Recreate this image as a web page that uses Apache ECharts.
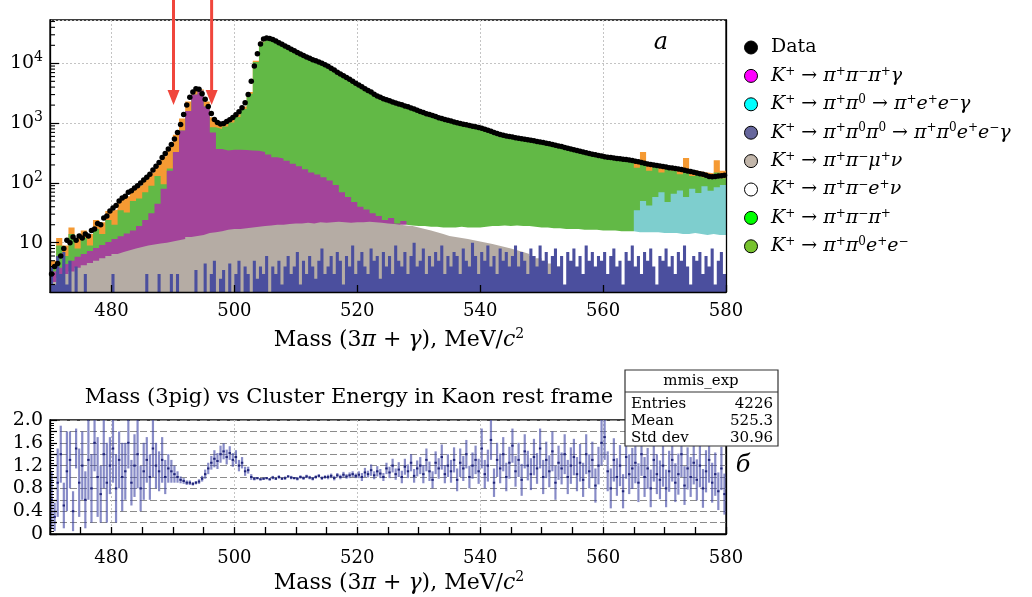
<!DOCTYPE html>
<html>
<head>
<meta charset="utf-8">
<script src="https://cdn.jsdelivr.net/npm/echarts@6/dist/echarts.min.js"></script>
<style>
  html, body { margin: 0; padding: 0; background: #fff; }
  #chart { width: 1032px; height: 597px; }
</style>
</head>
<body>
<div id="chart"></div>
<script>
// mass range and binning (MeV)
const massMin = 470
const massMax = 580
const mcBin = 1      // MC stack histograms
const fineBin = 0.5  // data, blue component, ratio

const xTicks = [480, 500, 520, 540, 560, 580]
const arrowMass = [490.1, 496.3]
const arrowTip = 2000

// cumulative stack tops, 1 MeV bins from 470
const totalTop = [
  5, 12, 9, 18, 12, 16, 14, 24, 22, 34,
  36, 52, 60, 78, 90, 115, 150, 200, 280, 400,
  640, 1200, 2300, 3500, 3700, 2300, 1250, 950, 1000, 1150,
  1400, 1900, 3300, 11000, 23000, 26000, 24000, 21300, 18800, 16700,
  14700, 13100, 11800, 10700, 9800, 8600, 7400, 6400, 5600, 4800,
  4200, 3600, 3150, 2780, 2500, 2300, 2130, 1980, 1830, 1680,
  1530, 1410, 1310, 1210, 1140, 1060, 1000, 950, 900, 860,
  810, 745, 685, 640, 605, 580, 555, 530, 510, 490,
  470, 445, 420, 400, 378, 355, 338, 318, 300, 285,
  273, 263, 256, 250, 245, 235, 330, 215, 205, 200,
  190, 185, 178, 260, 165, 155, 150, 145, 240, 160
]
// K+ -> pi+ pi0 e+ e-
const eeTop = [
  4, 9, 6, 14, 8, 12, 9, 17, 14, 24,
  20, 35, 32, 50, 55, 70, 90, 130, 95, 175,
  330, 750, 1600, 3000, 3500, 1900, 850, 800, 880, 1020,
  1260, 1720, 3100, 10500, 22500, 25500, 23500, 20800, 18400, 16300,
  14300, 12800, 11500, 10400, 9500, 8400, 7200, 6200, 5450, 4680,
  4100, 3500, 3070, 2700, 2430, 2240, 2070, 1920, 1780, 1630,
  1490, 1370, 1270, 1180, 1100, 1030, 970, 920, 870, 830,
  790, 720, 665, 620, 585, 560, 535, 512, 492, 472,
  455, 430, 405, 385, 365, 345, 325, 305, 290, 275,
  262, 250, 245, 238, 230, 180, 210, 160, 190, 150,
  175, 160, 140, 170, 130, 150, 125, 135, 150, 120
]
// K+ -> pi+ pi- pi+ gamma
const gammaTop = [
  3.3, 3.8, 4.4, 5, 5.8, 6.5, 7.3, 8.2, 9.2, 10.3,
  11.5, 12.8, 14.3, 16, 19, 24, 31, 45, 80, 160,
  330, 750, 1600, 3000, 3500, 1900, 700, 370, 350, 360,
  360, 355, 350, 345, 330, 300, 270, 255, 235, 210,
  190, 170, 150, 138, 125, 110, 92, 70, 58, 48,
  40, 36, 31, 28, 24, 26, 21, 23, 19, 18,
  1, 1, 1, 1, 1, 1, 1, 1, 1, 1,
  1, 1, 1, 1, 1, 1, 1, 1, 1, 1,
  1, 1, 1, 1, 1, 1, 1, 1, 1, 1,
  1, 1, 1, 1, 1, 1, 1, 1, 1, 1,
  1, 1, 1, 1, 1, 1, 1, 1, 1, 1
]
// K+ -> pi+ pi0 -> pi+ e+ e- gamma
const dalitzTop = [
  1, 1, 1, 1, 1, 1, 1, 1, 1, 1,
  1, 1, 1, 1, 1, 1, 1, 1, 1, 1,
  1, 1, 1, 1, 1, 1, 1, 1, 1, 1,
  1, 1, 1, 1, 1, 1, 1, 1, 1, 1,
  1, 1, 1, 1, 1, 1, 1, 1, 1, 1,
  1, 1, 1, 1, 1, 1, 1, 1, 1, 1,
  1, 1, 1, 1, 1, 1, 1, 1, 1, 1,
  1, 1, 1, 1, 1, 1, 1, 1, 1, 1,
  1, 1, 1, 1, 1, 1, 1, 1, 1, 1,
  1, 1, 1, 1, 1, 35, 50, 42, 58, 70,
  48, 66, 75, 58, 80, 68, 88, 74, 85, 92
]
// K+ -> pi+ pi- e+ nu
const ke4eTop = [
  1, 1, 1, 1, 1, 1, 1, 1, 1, 1,
  1, 1, 1, 1, 1, 1, 1, 1, 1, 1,
  1, 1, 1, 1, 1, 1, 1, 1, 1, 1,
  1, 1, 1, 1, 1, 1, 1, 1, 1, 1,
  1, 1, 1, 1, 1, 1, 1, 1, 1, 1,
  1, 1, 1, 1, 1, 1, 1, 20, 19.5, 19,
  19, 18.5, 18.5, 18, 18, 18, 18.5, 18, 18, 18,
  18.5, 19, 19, 19.5, 19, 19.5, 19, 19, 18.5, 18,
  18, 17.5, 17.5, 17, 17, 17, 16.5, 16.5, 16.5, 16,
  16, 16, 15.5, 15.5, 15.5, 15, 15, 15, 15, 14.5,
  14.5, 14.5, 14, 14, 14.5, 14, 13.5, 14, 13.5, 13.5
]
// K+ -> pi+ pi- mu+ nu
const km4Top = [
  2.2, 2.6, 3, 3.3, 3.8, 4.2, 4.6, 5, 5.5, 6,
  6.5, 7, 7.5, 8, 8.5, 9, 9.3, 9.7, 10, 10.5,
  11, 11.5, 12.5, 13, 13.5, 14.5, 15, 15.5, 16.5, 17,
  17, 17.5, 18, 18.5, 19, 19.5, 20, 20, 20.5, 21,
  21, 21.5, 21, 22, 21.5, 22, 22.5, 22, 21.5, 22,
  22, 22.5, 22, 21.5, 21, 20.5, 20, 19.5, 19, 18,
  17, 16, 15, 14, 13, 12.5, 12, 11.5, 11, 10.5,
  10, 9.5, 9, 8.5, 8, 7.5, 7, 6.5, 6, 5.5,
  5, 4.5, 4, 1, 1, 1, 1, 1, 1, 1,
  1, 1, 1, 1, 1, 1, 1, 1, 1, 1,
  1, 1, 1, 1, 1, 1, 1, 1, 1, 1
]
// K+ -> pi+ pi0 pi0 -> pi+ pi0 e+ e- gamma, 0.5 MeV bins
const pi0pi0Top = [
  4, 2, 6, 3, 7, 2, 5, 1, 4, 1,
  1, 3, 1, 1, 1, 1, 1, 1, 1, 1,
  3, 1, 1, 1, 1, 1, 1, 1, 1, 1,
  1, 3, 1, 1, 1, 3, 1, 1, 1, 3,
  1, 3, 1, 1, 1, 1, 1, 3.5, 1, 1,
  4.5, 1, 3, 5, 1, 2.5, 3.5, 1, 4.5, 1,
  3, 5, 1, 4, 3, 1, 5, 2.5, 4, 3,
  6, 1, 4, 3, 5, 2, 4, 6, 3, 4,
  7, 2, 5, 3, 6, 4, 2.5, 5, 8, 3,
  4, 6, 3, 7, 5, 2, 6, 4, 9, 3,
  5, 7, 4, 3, 8, 5, 6, 2.5, 7, 4,
  6, 3, 9, 5, 4, 7, 3, 6, 10, 4,
  5, 8, 3, 6, 4, 7, 5, 9, 3, 6,
  4, 7, 6, 3, 8, 5, 4, 10, 6, 3,
  7, 5, 9, 4, 6, 3, 8, 5, 7, 4,
  6, 9, 4, 7, 5, 3, 8, 6, 4, 9,
  5, 7, 3, 6, 8, 4, 6, 2, 7, 5,
  8, 4, 6, 3, 9, 5, 7, 4, 6, 5,
  7, 3, 6, 8, 4, 5, 2, 7, 5, 9,
  4, 6, 3, 7, 5, 8, 4, 2, 6, 5,
  8, 4, 6, 3, 7, 5, 9, 4, 2, 6,
  5, 7, 3, 6, 4, 8, 2, 5, 7, 3
]
// data counts, 0.5 MeV bins
const dataCounts = [
  3, 4, 4.5, 6, 8, 11, 10, 12.5, 11, 13,
  12, 14, 13, 16, 17, 21, 20, 26, 28, 34,
  38, 42, 50, 56, 60, 70, 74, 82, 90, 100,
  112, 125, 140, 165, 190, 220, 265, 310, 370, 440,
  540, 700, 950, 1400, 2000, 2700, 3300, 3750, 3700, 3100,
  2500, 1900, 1450, 1150, 1020, 970, 990, 1060, 1140, 1240,
  1380, 1550, 1800, 2200, 3000, 5000, 9000, 14500, 21000, 25500,
  26500, 26000, 25000, 23500, 22000, 20800, 19500, 18300, 17200, 16200,
  15200, 14300, 13500, 12800, 12100, 11500, 11000, 10500, 10000, 9500,
  8900, 8300, 7700, 7100, 6600, 6200, 5800, 5400, 5000, 4650,
  4350, 4050, 3750, 3500, 3300, 3050, 2850, 2700, 2560, 2450,
  2360, 2250, 2170, 2090, 2020, 1940, 1870, 1790, 1720, 1640,
  1560, 1500, 1440, 1390, 1340, 1290, 1230, 1190, 1150, 1120,
  1080, 1040, 1010, 985, 960, 935, 910, 890, 870, 845,
  820, 790, 760, 730, 700, 670, 645, 625, 610, 597,
  585, 572, 560, 548, 536, 525, 515, 505, 495, 485,
  475, 462, 450, 437, 425, 415, 405, 392, 380, 370,
  360, 350, 340, 330, 320, 311, 302, 295, 288, 281,
  275, 270, 265, 261, 257, 253, 249, 246, 242, 236,
  230, 225, 220, 214, 208, 204, 200, 196, 192, 188,
  184, 180, 177, 174, 171, 167, 163, 159, 155, 151,
  147, 143, 140, 134, 128, 127, 128, 131, 132, 134
]
// lower panel: ratio and its error, 0.5 MeV bins
const ratioValues = [
  0.6, 0.3, 0.9, 1.4, 0.5, 1.1, 1.3, 0.4, 1.5, 0.9,
  1.2, 0.6, 1.3, 0.8, 1.6, 1.0, 0.7, 1.4, 0.9, 1.2,
  1.5, 0.8, 1.3, 1.0, 1.1, 1.6, 0.9, 1.2, 1.4, 0.8,
  1.1, 1.3, 1.0, 1.5, 1.2, 1.1, 1.3, 1.0, 1.15, 1.1,
  1.05, 1.0, 0.95, 0.93, 0.9, 0.9, 0.88, 0.9, 0.92, 0.97,
  1.05, 1.15, 1.25, 1.32, 1.28, 1.4, 1.45, 1.35, 1.42, 1.3,
  1.35, 1.2, 1.25, 1.1, 1.12, 1.0, 0.97, 0.98, 0.96, 0.97,
  0.98, 0.96, 0.99, 0.97, 1.0, 0.97, 0.98, 1.01, 0.99, 0.98,
  0.97, 1.0, 0.98, 1.01, 0.99, 0.97, 1.0, 1.02, 0.98, 1.0,
  1.0, 1.02, 0.98, 1.03, 1.0, 1.04, 1.01, 1.03, 1.05, 1.02,
  1.04, 1.0, 1.08, 1.05, 1.12, 1.03, 1.1, 1.06, 1.0, 1.15,
  1.08, 1.2, 1.05, 1.13, 1.0, 1.18, 1.1, 1.25, 1.02, 1.15,
  1.2, 1.05, 1.3, 1.1, 0.95, 1.25, 1.15, 1.35, 1.05, 1.2,
  1.1, 1.3, 0.95, 1.25, 1.15, 1.4, 1.0, 1.2, 1.3, 1.1,
  1.5, 1.05, 1.2, 1.65, 0.9, 1.3, 1.15, 1.4, 1.0, 1.25,
  1.55, 1.1, 1.3, 0.95, 1.45, 1.2, 1.05, 1.35, 1.15, 1.5,
  1.0, 1.3, 1.1, 1.45, 0.9, 1.25, 1.15, 1.4, 1.0, 1.2,
  1.35, 1.05, 1.25, 0.95, 1.4, 1.1, 1.3, 0.85, 1.2, 1.6,
  1.7, 1.1, 0.8, 1.3, 1.0, 1.2, 0.75, 1.35, 1.05, 1.15,
  1.25, 0.9, 1.4, 1.0, 1.15, 0.8, 1.3, 1.05, 0.95, 1.2,
  0.8, 1.1, 1.3, 0.9, 1.05, 1.4, 0.85, 1.15, 1.0, 1.25,
  0.95, 1.2, 0.8, 1.1, 1.3, 0.9, 1.05, 0.75, 1.15, 0.7
]
const ratioErrors = [
  0.5, 0.25, 0.6, 0.5, 0.4, 0.7, 0.5, 0.35, 0.35, 0.6,
  0.6, 0.5, 0.7, 0.6, 0.5, 0.7, 0.5, 0.6, 0.7, 0.5,
  0.6, 0.6, 0.5, 0.6, 0.5, 0.45, 0.4, 0.55, 0.6, 0.4,
  0.5, 0.4, 0.4, 0.5, 0.4, 0.35, 0.4, 0.3, 0.25, 0.2,
  0.15, 0.1, 0.06, 0.05, 0.04, 0.04, 0.03, 0.03, 0.04, 0.05,
  0.08, 0.1, 0.12, 0.15, 0.14, 0.15, 0.14, 0.13, 0.12, 0.12,
  0.12, 0.1, 0.1, 0.08, 0.06, 0.05, 0.03, 0.02, 0.02, 0.02,
  0.02, 0.02, 0.03, 0.02, 0.03, 0.02, 0.03, 0.02, 0.03, 0.02,
  0.03, 0.03, 0.03, 0.03, 0.03, 0.03, 0.03, 0.03, 0.03, 0.03,
  0.04, 0.04, 0.04, 0.04, 0.04, 0.05, 0.04, 0.05, 0.05, 0.04,
  0.06, 0.07, 0.08, 0.06, 0.1, 0.07, 0.09, 0.08, 0.07, 0.1,
  0.1, 0.12, 0.1, 0.13, 0.11, 0.14, 0.12, 0.15, 0.12, 0.14,
  0.15, 0.16, 0.2, 0.17, 0.15, 0.2, 0.18, 0.22, 0.16, 0.2,
  0.2, 0.22, 0.2, 0.25, 0.22, 0.25, 0.2, 0.23, 0.25, 0.22,
  0.35, 0.25, 0.28, 0.35, 0.25, 0.3, 0.26, 0.3, 0.25, 0.28,
  0.3, 0.27, 0.3, 0.28, 0.3, 0.26, 0.28, 0.32, 0.27, 0.35,
  0.3, 0.32, 0.28, 0.35, 0.3, 0.3, 0.28, 0.35, 0.3, 0.32,
  0.32, 0.3, 0.33, 0.3, 0.35, 0.3, 0.32, 0.3, 0.33, 0.4,
  0.4, 0.35, 0.35, 0.38, 0.33, 0.36, 0.3, 0.38, 0.35, 0.36,
  0.36, 0.34, 0.38, 0.35, 0.36, 0.33, 0.38, 0.35, 0.34, 0.37,
  0.33, 0.36, 0.38, 0.34, 0.36, 0.4, 0.34, 0.37, 0.35, 0.38,
  0.36, 0.38, 0.34, 0.37, 0.4, 0.35, 0.38, 0.33, 0.38, 0.36
]

const serif = 'DejaVu Serif'
const sup = { '⁺': '+', '⁻': '−', '⁰': '0' }

const legendItems = [
  { name: 'Data', color: '#000000' },
  { name: 'K⁺ → π⁺π⁻π⁺γ', color: '#ff00ff' },
  { name: 'K⁺ → π⁺π⁰ → π⁺e⁺e⁻γ', color: '#00ffff' },
  { name: 'K⁺ → π⁺π⁰π⁰ → π⁺π⁰e⁺e⁻γ', color: '#66669c' },
  { name: 'K⁺ → π⁺π⁻μ⁺ν', color: '#c2b6aa' },
  { name: 'K⁺ → π⁺π⁻e⁺ν', color: '#ffffff' },
  { name: 'K⁺ → π⁺π⁻π⁺', color: '#00ff00' },
  { name: 'K⁺ → π⁺π⁰e⁺e⁻', color: '#77c22e' }
]

// step histogram: left edges + closing point at the upper edge
function histogram(values, width) {
  const pts = values.map((v, i) => [massMin + i * width, v])
  pts.push([massMin + values.length * width, values[values.length - 1]])
  return pts
}

function stackLayer(name, values, width, fill) {
  return {
    name: name,
    type: 'line',
    xAxisIndex: 0,
    yAxisIndex: 0,
    data: histogram(values, width),
    step: 'end',
    symbol: 'none',
    silent: true,
    lineStyle: { width: 0 },
    itemStyle: { color: fill },
    areaStyle: { color: fill, opacity: 1, origin: 'start' }
  }
}

const massTitle = 'Mass (3{i|π} + {i|γ}), MeV/{i|c}{s|2}'
const massTitleStyle = {
  fontFamily: serif, fontSize: 22, color: '#000', lineHeight: 26, padding: [0, 0, 0, 22],
  rich: {
    i: { fontFamily: serif, fontSize: 22, fontStyle: 'italic', lineHeight: 26 },
    s: { fontFamily: serif, fontSize: 14, lineHeight: 14, verticalAlign: 'top' }
  }
}

const chart = echarts.init(document.getElementById('chart'))

chart.setOption({
  animation: false,
  backgroundColor: '#fff',
  grid: [
    { left: 50, top: 20, width: 676, height: 272, show: true, borderColor: '#000', borderWidth: 1.3 },
    { left: 50, top: 420, width: 676, height: 115, show: true, borderColor: '#000', borderWidth: 1.3 }
  ],
  legend: {
    orient: 'vertical',
    left: 739,
    top: 32,
    itemWidth: 30,
    itemHeight: 13,
    itemGap: 7.4,
    icon: 'circle',
    selectedMode: false,
    itemStyle: { borderColor: '#000', borderWidth: 1, opacity: 1 },
    data: legendItems.map(d => ({ name: d.name, itemStyle: { color: d.color, borderColor: '#000', borderWidth: 1, opacity: 1 } })),
    formatter: name => name === 'Data' ? '{u|Data}' : name.replace(/[⁺⁻⁰]/g, c => '{s|' + sup[c] + '}'),
    textStyle: {
      fontFamily: serif, fontSize: 19, fontStyle: 'italic', color: '#000', lineHeight: 21,
      rich: {
        u: { fontFamily: serif, fontSize: 19, fontStyle: 'normal', lineHeight: 21 },
        s: { fontFamily: serif, fontSize: 12, fontStyle: 'normal', lineHeight: 12, verticalAlign: 'top' }
      }
    }
  },
  xAxis: [
    {
      gridIndex: 0, type: 'value', min: massMin, max: massMax, position: 'bottom', z: 10,
      axisLine: { onZero: false, lineStyle: { color: '#000', width: 1.3 } },
      axisTick: { inside: true, length: 7, customValues: xTicks, lineStyle: { color: '#000', width: 1.3 } },
      axisLabel: { customValues: xTicks, color: '#000', fontFamily: serif, fontSize: 18, margin: 10 },
      splitLine: { show: false },
      name: massTitle, nameLocation: 'middle', nameGap: 35, nameTextStyle: massTitleStyle
    },
    {
      gridIndex: 0, type: 'value', min: massMin, max: massMax, position: 'top', z: 0,
      axisLine: { show: false }, axisTick: { show: false, customValues: xTicks }, axisLabel: { show: false },
      splitLine: { show: true, lineStyle: { color: '#c4c4c4', width: 1, type: [2, 2] } }
    },
    {
      gridIndex: 1, type: 'value', min: massMin, max: massMax, interval: 5, position: 'bottom', z: 10,
      axisLine: { onZero: false, lineStyle: { color: '#000', width: 1.3 } },
      axisTick: { inside: true, length: 7, lineStyle: { color: '#000', width: 1.3 } },
      axisLabel: { customValues: xTicks, color: '#000', fontFamily: serif, fontSize: 18, margin: 15 },
      splitLine: { show: false },
      name: massTitle, nameLocation: 'middle', nameGap: 36, nameTextStyle: massTitleStyle
    },
    {
      gridIndex: 1, type: 'value', min: massMin, max: massMax, position: 'top', z: 0,
      axisLine: { show: false }, axisTick: { show: false, customValues: xTicks }, axisLabel: { show: false },
      splitLine: { show: true, lineStyle: { color: '#c4c4c4', width: 1, type: [2, 2] } }
    }
  ],
  yAxis: [
    {
      gridIndex: 0, type: 'log', min: 1.5, max: 53000, position: 'left', z: 10,
      axisLine: { show: true, onZero: false, lineStyle: { color: '#000', width: 1.3 } },
      axisTick: { inside: true, length: 9, lineStyle: { color: '#000', width: 1.2 } },
      axisLabel: {
        showMinLabel: false, showMaxLabel: false, margin: 7,
        color: '#000', fontFamily: serif, fontSize: 19, lineHeight: 26,
        formatter: v => {
          const p = Math.round(Math.log10(v))
          return p === 1 ? '10' : '10{s|' + p + '}'
        },
        rich: { s: { fontFamily: serif, fontSize: 14, lineHeight: 14, verticalAlign: 'top' } }
      },
      splitLine: { show: false }
    },
    {
      gridIndex: 0, type: 'log', min: 1.5, max: 53000, position: 'right', z: 0,
      axisLine: { show: false }, axisTick: { show: false }, axisLabel: { show: false },
      splitLine: { show: true, lineStyle: { color: '#c4c4c4', width: 1, type: [2, 2] } }
    },
    {
      gridIndex: 0, type: 'log', min: 1.5, max: 53000, position: 'right', z: 10,
      axisLine: { show: true, onZero: false, lineStyle: { color: '#000', width: 1.3 } },
      axisTick: { show: false }, axisLabel: { show: false }, splitLine: { show: false }
    },
    {
      gridIndex: 1, type: 'value', min: 0, max: 2, interval: 0.2, position: 'left', z: 10,
      axisLine: { show: true, onZero: false, lineStyle: { color: '#000', width: 1.3 } },
      axisTick: { inside: true, length: 7, lineStyle: { color: '#000', width: 1.2 } },
      minorTick: { show: true, splitNumber: 4, length: 4, lineStyle: { color: '#000', width: 1 } },
      axisLabel: {
        margin: 7, color: '#000', fontFamily: serif, fontSize: 19,
        formatter: v => {
          const t = Math.round(v * 10)
          if (t % 4 !== 0) return ''
          return t === 0 ? '0' : v.toFixed(1)
        }
      },
      splitLine: { show: false }
    },
    {
      gridIndex: 1, type: 'value', min: 0, max: 2, interval: 0.2, position: 'right', z: 0,
      axisLine: { show: false }, axisTick: { show: false }, axisLabel: { show: false },
      splitLine: { show: true, lineStyle: { color: '#8c8c8c', width: 1, type: [7, 3] } }
    },
    {
      gridIndex: 1, type: 'value', min: 0, max: 2, position: 'right', z: 10,
      axisLine: { show: true, onZero: false, lineStyle: { color: '#000', width: 1.3 } },
      axisTick: { show: false }, axisLabel: { show: false }, splitLine: { show: false }
    }
  ],
  series: [
    stackLayer('other', totalTop, mcBin, '#f59a33'),
    stackLayer(legendItems[7].name, eeTop, mcBin, '#62b946'),
    stackLayer(legendItems[6].name, [], mcBin, '#00ff00'),
    stackLayer(legendItems[1].name, gammaTop, mcBin, '#a3449a'),
    stackLayer(legendItems[2].name, dalitzTop, mcBin, '#7ecece'),
    stackLayer(legendItems[5].name, ke4eTop, mcBin, '#ffffff'),
    stackLayer(legendItems[4].name, km4Top, mcBin, '#b5aca4'),
    stackLayer(legendItems[3].name, pi0pi0Top, fineBin, '#4b4f9e'),
    {
      name: 'Data',
      type: 'scatter',
      xAxisIndex: 0,
      yAxisIndex: 0,
      symbolSize: 5.5,
      silent: true,
      itemStyle: { color: '#000', opacity: 1 },
      data: dataCounts.map((v, i) => [massMin + (i + 0.5) * fineBin, v]),
      z: 5
    },
    {
      name: 'ratio',
      type: 'custom',
      xAxisIndex: 2,
      yAxisIndex: 3,
      clip: true,
      silent: true,
      data: ratioValues.map((v, i) => [massMin + (i + 0.5) * fineBin, v, ratioErrors[i]]),
      renderItem: (params, api) => {
        const x = api.value(0)
        const c = api.value(1)
        const e = api.value(2)
        const hi = api.coord([x, c + e])
        const lo = api.coord([x, c - e])
        const mid = api.coord([x, c])
        return {
          type: 'group',
          children: [
            { type: 'line', shape: { x1: hi[0], y1: hi[1], x2: lo[0], y2: lo[1] }, style: { stroke: 'rgba(62,68,165,0.62)', lineWidth: 2.2 } },
            { type: 'rect', shape: { x: mid[0] - 1.2, y: mid[1] - 1, width: 2.4, height: 2 }, style: { fill: '#20257a' } }
          ]
        }
      }
    }
  ]
})

// annotations: minor log ticks, arrows, panel labels, stats box
const gfx = []
const leftX = chart.convertToPixel({ xAxisIndex: 0 }, massMin)
for (let p = 0; p <= 4; p++) {
  for (let k = 2; k <= 9; k++) {
    const v = k * Math.pow(10, p)
    if (v <= 1.5 || v >= 53000) continue
    const y = chart.convertToPixel({ yAxisIndex: 0 }, v)
    gfx.push({ type: 'line', z: 60, shape: { x1: leftX, y1: y, x2: leftX + 5, y2: y }, style: { stroke: '#000', lineWidth: 1.1 } })
  }
}
const tipY = chart.convertToPixel({ yAxisIndex: 0 }, arrowTip)
arrowMass.forEach(m => {
  const x = chart.convertToPixel({ xAxisIndex: 0 }, m)
  gfx.push({ type: 'line', z: 60, shape: { x1: x, y1: 0, x2: x, y2: tipY - 12 }, style: { stroke: '#f0463c', lineWidth: 3 } })
  gfx.push({ type: 'polygon', z: 60, shape: { points: [[x - 6, tipY - 15], [x + 6, tipY - 15], [x, tipY]] }, style: { fill: '#f0463c' } })
})
const txt = (text, x, y, size, align, italic) => ({
  type: 'text', z: 70, x: x, y: y,
  style: {
    text: text, fill: '#000', fontFamily: serif, fontSize: size, fontStyle: italic ? 'italic' : 'normal',
    align: align, verticalAlign: 'middle', textAlign: align, textVerticalAlign: 'middle'
  }
})
gfx.push(txt('а', 661, 43, 24, 'center', true))
gfx.push(txt('б', 743, 466, 24, 'center', true))
gfx.push(txt('Mass (3pig) vs Cluster Energy in Kaon rest frame', 349, 398, 21, 'center', false))
gfx.push({ type: 'rect', z: 65, shape: { x: 625, y: 370, width: 153, height: 76 }, style: { fill: '#fff', stroke: '#333', lineWidth: 1.2 } })
gfx.push({ type: 'line', z: 66, shape: { x1: 625, y1: 392, x2: 778, y2: 392 }, style: { stroke: '#333', lineWidth: 1.2 } })
gfx.push(txt('mmis_exp', 701, 381, 15, 'center', false))
gfx.push(txt('Entries', 631, 404, 15, 'left', false))
gfx.push(txt('4226', 773, 404, 15, 'right', false))
gfx.push(txt('Mean', 631, 421, 15, 'left', false))
gfx.push(txt('525.3', 773, 421, 15, 'right', false))
gfx.push(txt('Std dev', 631, 438, 15, 'left', false))
gfx.push(txt('30.96', 773, 438, 15, 'right', false))

chart.setOption({ graphic: gfx })
</script>
</body>
</html>
